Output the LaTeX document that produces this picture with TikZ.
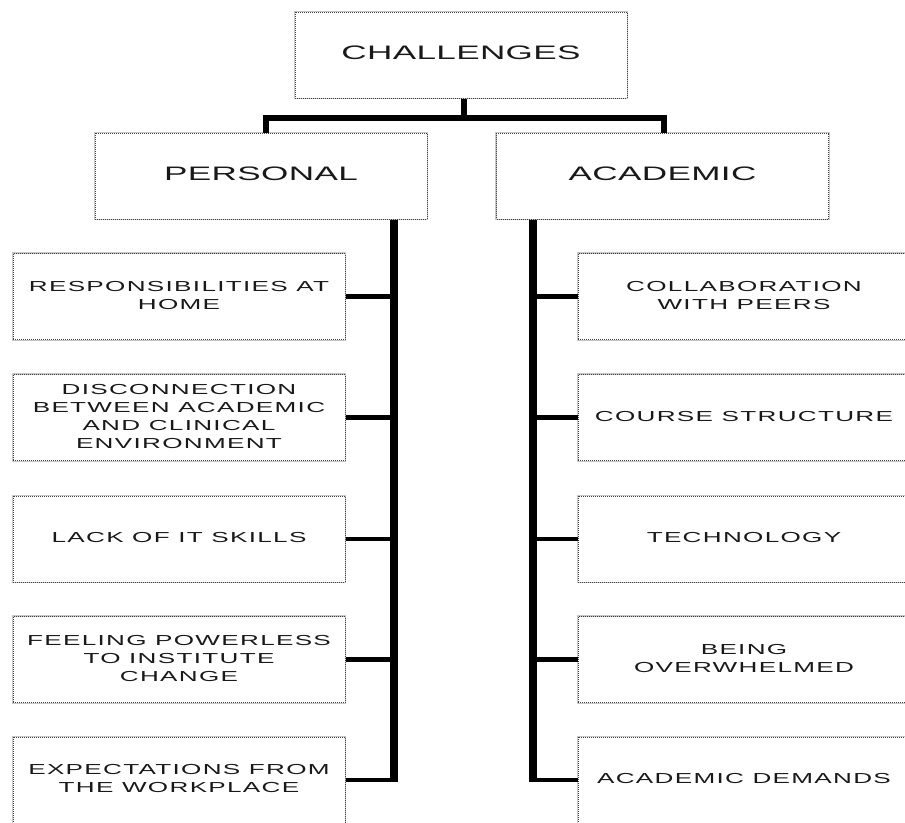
\documentclass[tikz,border=0pt]{standalone}
\usepackage{fontspec}
\usepackage{graphicx}
\usetikzlibrary{calc}
\newfontfamily\hdfont[LetterSpace=1]{Liberation Sans}
\newfontfamily\itfont[LetterSpace=5]{Liberation Sans}
\newcommand{\wtext}[1]{\scalebox{1.8}[1]{\begin{tabular}{@{}c@{}}#1\end{tabular}}}
\tikzset{
  box/.style={rectangle, draw=black!75, densely dotted, line width=1pt, fill=white,
    preaction={draw=gray!45, solid, line width=2.8pt},
    minimum width=332pt, minimum height=86pt, inner sep=0pt, align=center, text=black!90},
  head/.style={box, font=\hdfont\fontsize{19.5}{24}\selectfont},
  item/.style={box, font=\itfont\fontsize{14.5}{18}\selectfont},
  bar/.style={line width=6pt, black, line join=miter},
  trunk/.style={line width=8pt, black},
  tick/.style={line width=4.5pt, black},
}
\begin{document}
\begin{tikzpicture}[x=1pt, y=-1pt]
\clip (0,0) rectangle (905,822);
\fill[white] (0,0) rectangle (905,822);
% headers
\node[head] (ch) at (461,55) {\wtext{CHALLENGES}};
\node[head] (pers) at (261,176) {\wtext{PERSONAL}};
\node[head] (acad) at (662.5,176) {\wtext{ACADEMIC}};
% left items
\node[item] (l1) at (179,296.5) {\wtext{RESPONSIBILITIES AT\\HOME}};
\node[item] (l2) at (179,417.5) {\wtext{DISCONNECTION\\BETWEEN ACADEMIC\\AND CLINICAL\\ENVIRONMENT}};
\node[item] (l3) at (179,539) {\wtext{LACK OF IT SKILLS}};
\node[item] (l4) at (179,659.5) {\wtext{FEELING POWERLESS\\TO INSTITUTE\\CHANGE}};
\node[item] (l5) at (179,780) {\wtext{EXPECTATIONS FROM\\THE WORKPLACE}};
% right items
\node[item] (r1) at (744,296.5) {\wtext{COLLABORATION\\WITH PEERS}};
\node[item] (r2) at (744,417.5) {\wtext{COURSE STRUCTURE}};
\node[item] (r3) at (744,539) {\wtext{TECHNOLOGY}};
\node[item] (r4) at (744,659.5) {\wtext{BEING\\OVERWHELMED}};
\node[item] (r5) at (744,780) {\wtext{ACADEMIC DEMANDS}};
% helper coordinates
\coordinate (hub) at (464,117.5);
\coordinate (pd) at (266,0);
\coordinate (ad) at (664,0);
\coordinate (lt) at (394,0);
\coordinate (rt) at (533,0);
% top connectors
\draw[bar] (ch.south -| hub) -- (hub);
\draw[bar] (pers.north -| pd) |- (hub) -| (acad.north -| ad);
% trunks
\draw[trunk] (pers.south -| lt) -- ($(lt |- l5.east)+(0,2.25)$);
\draw[trunk] (acad.south -| rt) -- ($(rt |- r5.west)+(0,2.25)$);
% ticks
\foreach \n in {l1,l2,l3,l4,l5} { \draw[tick] (\n.east) -- (\n.east -| lt); }
\foreach \n in {r1,r2,r3,r4,r5} { \draw[tick] (\n.west) -- (\n.west -| rt); }
\end{tikzpicture}
\end{document}
